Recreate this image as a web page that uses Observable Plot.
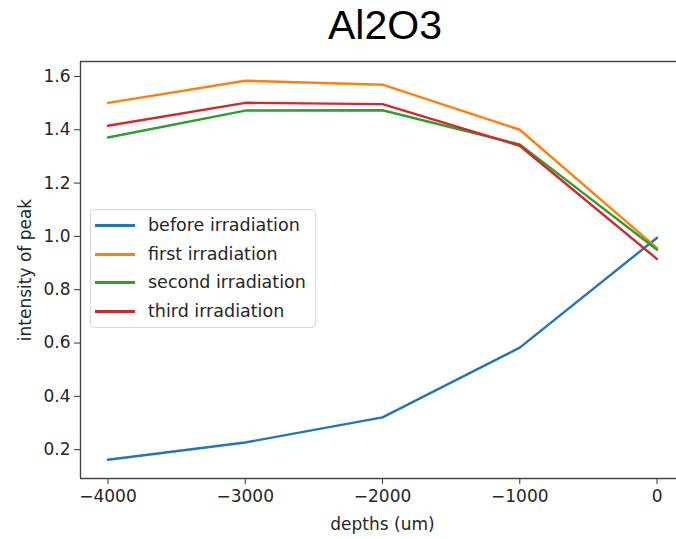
<!DOCTYPE html>
<html>
<head>
<meta charset="utf-8">
<script src="https://cdn.jsdelivr.net/npm/d3@7"></script>
<script src="https://cdn.jsdelivr.net/npm/@observablehq/plot@0.6"></script>
<style>
  html, body { margin: 0; padding: 0; background: #fff; }
  #wrap { position: relative; width: 676px; height: 539px; overflow: hidden; font-family: "DejaVu Sans", sans-serif; }
  #title { height: 50px; width: 676px; position: relative; }
  #title span { position: absolute; left: 0; width: 770px; text-align: center; top: 5px; font-family: "Liberation Sans", Arial, sans-serif; font-size: 41px; color: #000; line-height: 1; }
  #legend { position: absolute; left: 90px; top: 209px; width: 226px; height: 119px; border: 1px solid #d9d9d9; border-radius: 4px; background: rgba(255,255,255,0.85); box-sizing: border-box; }
  .row { position: absolute; left: 0; height: 20px; }
  .sw { position: absolute; left: 4px; width: 40px; height: 2.5px; top: 9px; }
  .lab { position: absolute; left: 57px; top: 0; font-size: 17.5px; line-height: 20px; color: #262626; white-space: nowrap; }
</style>
</head>
<body>
<div id="wrap">
  <div id="title"><span>Al2O3</span></div>
  <div id="chart"></div>
  <div id="legend"></div>
</div>
<script>
const depths = [-4000, -3000, -2000, -1000, 0];
const seriesNames = ["before irradiation", "first irradiation", "second irradiation", "third irradiation"];
const seriesColors = ["#1f77b4", "#ff7f0e", "#2ca02c", "#d62728"];
const before = [0.162, 0.227, 0.321, 0.583, 0.995];
const first = [1.501, 1.584, 1.569, 1.400, 0.956];
const second = [1.371, 1.472, 1.473, 1.345, 0.950];
const third = [1.415, 1.501, 1.496, 1.340, 0.915];
const xTicks = [-4000, -3000, -2000, -1000, 0];
const yTicks = [0.2, 0.4, 0.6, 0.8, 1.0, 1.2, 1.4, 1.6];
const xDomain = [-4200, 200];
const yDomain = [0.0919, 1.656];

const allSeries = [before, first, second, third];
const data = [];
allSeries.forEach((vals, i) => vals.forEach((v, j) => data.push({series: seriesNames[i], depth: depths[j], value: v})));

const fmtX = d => d < 0 ? "\u2212" + Math.abs(d) : String(d);

const chart = Plot.plot({
  width: 676,
  height: 489,
  marginTop: 11,
  marginBottom: 61,
  marginLeft: 80,
  marginRight: -8,
  style: { fontFamily: "DejaVu Sans, sans-serif", fontSize: "17px", color: "#262626", overflow: "visible" },
  x: { domain: xDomain },
  y: { domain: yDomain },
  color: { domain: seriesNames, range: seriesColors },
  marks: [
    Plot.line(data, { x: "depth", y: "value", z: "series", stroke: "series", strokeWidth: 2.4 }),
    Plot.axisX({ ticks: xTicks, tickFormat: fmtX, tickSize: 6, tickPadding: 5, label: "depths (um)", labelAnchor: "center", labelArrow: "none", labelOffset: 51, stroke: "#333", fontSize: 17 }),
    Plot.axisY({ ticks: yTicks, tickFormat: d => d.toFixed(1), tickSize: 6, tickPadding: 4, label: "intensity of peak", labelAnchor: "center", labelArrow: "none", labelOffset: 62, stroke: "#333", fontSize: 17 }),
    Plot.ruleY(yDomain, { stroke: "#444", strokeWidth: 1.4 }),
    Plot.ruleX([xDomain[0]], { stroke: "#444", strokeWidth: 1.4 })
  ]
});
document.getElementById("chart").appendChild(chart);

const legend = document.getElementById("legend");
const rowTops = [5, 34, 62, 91];
seriesNames.forEach((name, i) => {
  const row = document.createElement("div");
  row.className = "row";
  row.style.top = rowTops[i] + "px";
  row.innerHTML = `<div class="sw" style="background:${seriesColors[i]}"></div><div class="lab">${name}</div>`;
  legend.appendChild(row);
});
</script>
</body>
</html>
